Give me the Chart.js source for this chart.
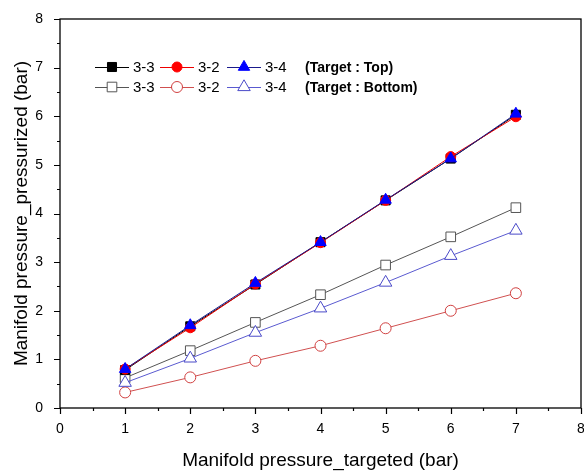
<!DOCTYPE html>
<html>
<head>
<meta charset="utf-8">
<script src="https://cdn.jsdelivr.net/npm/chart.js@4.4.1/dist/chart.umd.min.js"></script>
<style>
  html, body { margin: 0; padding: 0; background: #fff; overflow: hidden; }
  #wrap { width: 584px; height: 472px; }
</style>
</head>
<body>
<div id="wrap"><canvas id="pressure-chart"></canvas></div>
<script>
// targeted manifold pressure (bar)
const targeted = [1, 2, 3, 4, 5, 6, 7];

// pressurized pressure (bar), target at top
const top33 = [0.78, 1.68, 2.54, 3.41, 4.27, 5.13, 6.03];
const top32 = [0.80, 1.65, 2.55, 3.40, 4.27, 5.17, 5.99];
const top34 = [0.80, 1.70, 2.57, 3.41, 4.28, 5.13, 6.05];

// pressurized pressure (bar), target at bottom
const bottom33 = [0.62, 1.18, 1.76, 2.33, 2.94, 3.52, 4.12];
const bottom32 = [0.32, 0.63, 0.97, 1.28, 1.64, 2.00, 2.36];
const bottom34 = [0.52, 1.02, 1.55, 2.05, 2.58, 3.13, 3.65];

const axisTicks = [0, 1, 2, 3, 4, 5, 6, 7, 8];

const FONT = "'Liberation Sans', Arial, sans-serif";

function points(values) {
    return values.map((v, i) => ({ x: targeted[i], y: v }));
}

// series style: [label, values, line color, marker color, style, filled, radius, draw order]
const seriesList = [
    ["3-3", top33, "#000000", "#000000", "rect", true, 6.4, 3],
    ["3-2", top32, "#ee0000", "#ff0000", "circle", true, 5, 2],
    ["3-4", top34, "#1a1a8c", "#0000ff", "triangle", true, 6.6, 1],
    ["3-3", bottom33, "#555555", "#555555", "rect", false, 6.8, 6],
    ["3-2", bottom32, "#d05050", "#d04040", "circle", false, 5.5, 5],
    ["3-4", bottom34, "#5a5ad0", "#4a4ac8", "triangle", false, 7.2, 4],
];

const datasets = seriesList.map((s) => ({
    label: s[0],
    data: points(s[1]),
    borderColor: s[2],
    borderWidth: 1,
    pointStyle: s[4],
    pointRadius: s[6],
    pointBorderColor: s[3],
    pointBackgroundColor: s[5] ? s[3] : "#ffffff",
    pointBorderWidth: 1,
    showLine: true,
    tension: 0,
    order: s[7],
}));

// frame, outward tick marks and the two-row legend
const framePlugin = {
    id: "frame",
    afterDraw(chart) {
        const ctx = chart.ctx;
        const area = chart.chartArea;
        const xs = chart.scales.x;
        const ys = chart.scales.y;
        ctx.save();
        ctx.strokeStyle = "#000";
        ctx.lineWidth = 1.3;
        ctx.strokeRect(area.left, area.top, area.right - area.left, area.bottom - area.top);

        ctx.lineWidth = 1.2;
        ctx.beginPath();
        for (let v = 0; v <= 8; v += 0.5) {
            const len = Number.isInteger(v) ? 6 : 3;
            const px = Math.round(xs.getPixelForValue(v)) + 0.5;
            ctx.moveTo(px, area.bottom);
            ctx.lineTo(px, area.bottom + len);
            const py = Math.round(ys.getPixelForValue(v)) + 0.5;
            ctx.moveTo(area.left, py);
            ctx.lineTo(area.left - len, py);
        }
        ctx.stroke();

        // legend rows
        const rows = [
            { y: 67, items: [0, 1, 2], note: "(Target : Top)" },
            { y: 87, items: [3, 4, 5], note: "(Target : Bottom)" },
        ];
        const startX = [95, 160, 227];
        rows.forEach((row) => {
            row.items.forEach((idx, k) => {
                const ds = datasets[idx];
                const x0 = startX[k];
                ctx.strokeStyle = ds.borderColor;
                ctx.lineWidth = 1;
                ctx.beginPath();
                ctx.moveTo(x0, row.y + 0.5);
                ctx.lineTo(x0 + 34, row.y + 0.5);
                ctx.stroke();
                ctx.fillStyle = ds.pointBackgroundColor;
                ctx.strokeStyle = ds.pointBorderColor;
                Chart.helpers.drawPoint(ctx, {
                    pointStyle: ds.pointStyle,
                    radius: ds.pointRadius,
                    borderWidth: 1,
                }, x0 + 17, row.y);
                ctx.fillStyle = "#000";
                ctx.font = "15px " + FONT;
                ctx.textBaseline = "middle";
                ctx.fillText(ds.label, x0 + 38, row.y + 1);
            });
            ctx.font = "bold 14px " + FONT;
            ctx.fillText(row.note, 305, row.y + 1);
        });
        ctx.restore();
    },
};

new Chart(document.getElementById("pressure-chart"), {
    type: "scatter",
    data: { datasets: datasets },
    options: {
        responsive: true,
        maintainAspectRatio: false,
        animation: false,
        layout: {
            autoPadding: false,
            padding: { top: 19, right: 3, left: 0, bottom: 0 },
        },
        plugins: {
            legend: { display: false },
            tooltip: { enabled: false },
        },
        scales: {
            x: {
                type: "linear",
                min: 0,
                max: 8,
                afterBuildTicks: (scale) => {
                    scale.ticks = axisTicks.map((v) => ({ value: v }));
                },
                afterFit: (scale) => {
                    scale.height = 64;
                    // let the last label run off the edge
                    scale.paddingRight = 0;
                },
                grid: { display: false },
                border: { display: false },
                ticks: {
                    color: "#000",
                    padding: 5,
                    font: { family: FONT, size: 14 },
                },
                title: {
                    display: true,
                    text: "Manifold pressure_targeted (bar)",
                    color: "#000",
                    font: { family: FONT, size: 19 },
                    padding: { top: 3, bottom: 0 },
                },
            },
            y: {
                type: "linear",
                min: 0,
                max: 8,
                afterBuildTicks: (scale) => {
                    scale.ticks = axisTicks.map((v) => ({ value: v }));
                },
                afterFit: (scale) => { scale.width = 60; },
                grid: { display: false },
                border: { display: false },
                ticks: {
                    color: "#000",
                    padding: 9,
                    font: { family: FONT, size: 14 },
                },
                title: {
                    display: true,
                    text: "Manifold pressure_pressurized (bar)",
                    color: "#000",
                    font: { family: FONT, size: 19 },
                    padding: { top: 10, bottom: 0 },
                },
            },
        },
    },
    plugins: [framePlugin],
});
</script>
</body>
</html>
